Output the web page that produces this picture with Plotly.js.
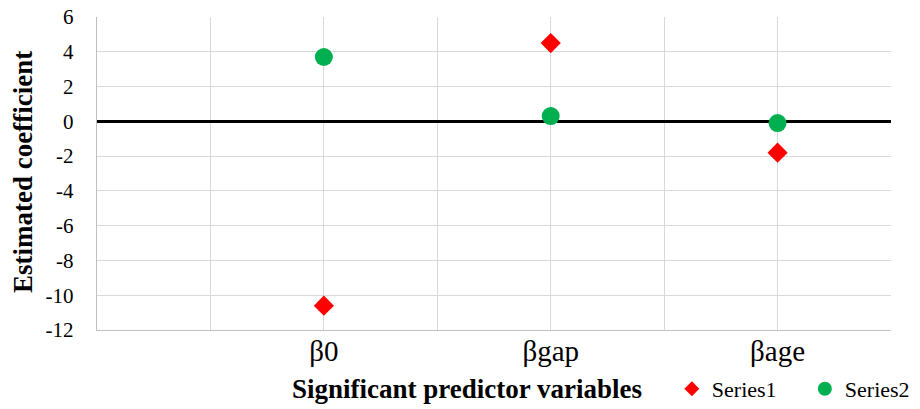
<!DOCTYPE html>
<html>
<head>
<meta charset="utf-8">
<script src="https://cdn.plot.ly/plotly-3.0.1.min.js"></script>
<style>html,body{margin:0;padding:0;background:#fff;}#chart{width:920px;height:409px;}</style>
</head>
<body>
<div id="chart"></div>
<script>
var categories = ["β0", "βgap", "βage"];
var categoryPositions = [1, 2, 3];
var series1 = [-10.6, 4.5, -1.8];
var series2 = [3.7, 0.3, -0.1];
var seriesNames = ["Series1", "Series2"];
var yTicks = [-12, -10, -8, -6, -4, -2, 0, 2, 4, 6];
var yTickText = yTicks.map(function (v) { return String(v); });

var gridVals = [];
var gridText = [];
for (var i = 0; i <= 7; i++) {
  var v = i * 0.5;
  gridVals.push(v);
  var idx = categoryPositions.indexOf(v);
  gridText.push(idx >= 0 ? categories[idx] : "");
}

var font = "Liberation Serif";

var traces = [
  {x: categoryPositions, y: series1, name: seriesNames[0], type: "scatter", mode: "markers",
   showlegend: false, marker: {symbol: "diamond", size: 15.5, color: "#ff0000"}},
  {x: categoryPositions, y: series2, name: seriesNames[1], type: "scatter", mode: "markers",
   showlegend: false, marker: {symbol: "circle", size: 18, color: "#00b050"}},
  {x: [null], y: [null], name: seriesNames[0], type: "scatter", mode: "markers",
   marker: {symbol: "diamond", size: 11.5, color: "#ff0000"}},
  {x: [null], y: [null], name: seriesNames[1], type: "scatter", mode: "markers",
   marker: {symbol: "circle", size: 14, color: "#00b050"}}
];

var layout = {
  width: 920, height: 409,
  margin: {l: 97, r: 29, t: 17, b: 79, autoexpand: false},
  paper_bgcolor: "#fff", plot_bgcolor: "#fff",
  font: {family: font, size: 23, color: "#000"},
  showlegend: true,
  legend: {orientation: "h", x: 0.724, xanchor: "left", y: -0.1885, yanchor: "middle",
           font: {size: 22}, entrywidth: 88, itemwidth: 30,
           bgcolor: "rgba(0,0,0,0)"},
  xaxis: {range: [0, 3.5], tickmode: "array", tickvals: gridVals, ticktext: gridText,
          showgrid: true, gridcolor: "#d9d9d9", gridwidth: 1.2, zeroline: false,
          showline: true, linecolor: "#bfbfbf", linewidth: 1.3, ticks: "",
          ticklabelstandoff: -5,
          tickfont: {size: 29}, fixedrange: true, automargin: false},
  yaxis: {range: [-12, 6], tickmode: "array", tickvals: yTicks, ticktext: yTickText,
          showgrid: true, gridcolor: "#d9d9d9", gridwidth: 1.2,
          zeroline: true, zerolinecolor: "#000", zerolinewidth: 2.5,
          showline: true, linecolor: "#bfbfbf", linewidth: 1.3, ticks: "",
          ticklabelstandoff: 18,
          tickfont: {size: 21},
          fixedrange: true, automargin: false},
  annotations: [
    {text: "<b>Significant predictor variables</b>", xref: "paper", yref: "paper",
     x: 0.4654, y: -0.19, xanchor: "center", yanchor: "middle", showarrow: false,
     font: {size: 27}},
    {text: "<b>Estimated coefficient</b>", xref: "paper", yref: "paper", textangle: -90,
     x: -0.0932, y: 0.505, xanchor: "center", yanchor: "middle", showarrow: false,
     font: {size: 27}}
  ]
};

Plotly.newPlot("chart", traces, layout, {displayModeBar: false, staticPlot: true});
</script>
</body>
</html>
